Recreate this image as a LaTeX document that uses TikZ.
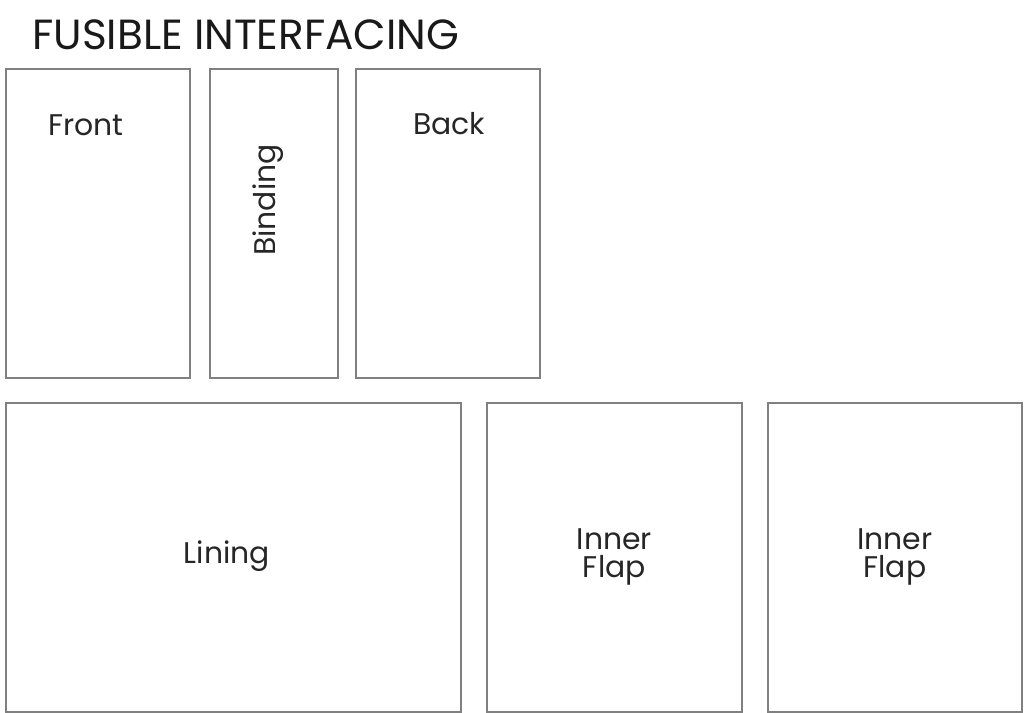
\documentclass[tikz,border=0pt]{standalone}
\usepackage{fontspec}
\setmainfont{Poppins}
\usetikzlibrary{positioning}

\tikzset{
  piece/.style={draw=black!50, line width=1pt, inner sep=0pt, anchor=north west, minimum height=6.18cm, align=center},
  lbl/.style={font=\fontsize{17}{17}\selectfont, text=black!85, inner sep=0pt}
}

\begin{document}
\begin{tikzpicture}[x=0.02cm,y=-0.02cm]
\useasboundingbox (0,0) rectangle (1024,713);

\node[anchor=base west, inner sep=0pt, font=\fontsize{24}{24}\selectfont, text=black!90] (title) at (32,50) {FUSIBLE INTERFACING};

% top row
\node[piece, minimum width=3.68cm] (front) at (5,68) {};
\node[piece, minimum width=2.56cm] (binding) at (209,68) {};
\node[piece, minimum width=3.68cm] (back) at (355,68) {};

\node[lbl, anchor=base] (frontlbl) at (86,135) {Front};
\node[lbl, rotate=90] (bindinglbl) at (268,200) {Binding};
\node[lbl, anchor=base] (backlbl) at (449,134) {Back};

% bottom row
\node[piece, minimum width=9.10cm] (lining) at (5,402) {};
\node[piece, minimum width=5.10cm, lbl, font=\fontsize{17}{16}\selectfont] (flapa) at (486,402) {Inner\\Flap};
\node[piece, minimum width=5.08cm, lbl, font=\fontsize{17}{16}\selectfont] (flapb) at (767,402) {Inner\\Flap};

\node[lbl] (lininglbl) at (227,556) {Lining};

\end{tikzpicture}
\end{document}
